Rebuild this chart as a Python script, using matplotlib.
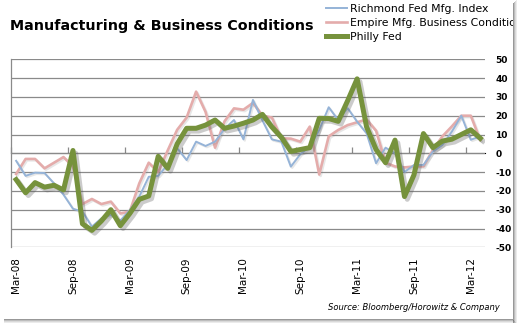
"""Manufacturing & Business Conditions: Richmond, Empire and Philly Fed indexes."""
import numpy as np
import matplotlib
matplotlib.use("Agg")
import matplotlib.pyplot as plt
import matplotlib.patheffects as pe
from matplotlib.patches import Rectangle

plt.rcParams["axes.unicode_minus"] = False

# monthly readings, Mar-08 .. Apr-12
months = ["Mar-08", "Apr-08", "May-08", "Jun-08", "Jul-08", "Aug-08",
          "Sep-08", "Oct-08", "Nov-08", "Dec-08", "Jan-09", "Feb-09",
          "Mar-09", "Apr-09", "May-09", "Jun-09", "Jul-09", "Aug-09",
          "Sep-09", "Oct-09", "Nov-09", "Dec-09", "Jan-10", "Feb-10",
          "Mar-10", "Apr-10", "May-10", "Jun-10", "Jul-10", "Aug-10",
          "Sep-10", "Oct-10", "Nov-10", "Dec-10", "Jan-11", "Feb-11",
          "Mar-11", "Apr-11", "May-11", "Jun-11", "Jul-11", "Aug-11",
          "Sep-11", "Oct-11", "Nov-11", "Dec-11", "Jan-12", "Feb-12",
          "Mar-12", "Apr-12"]

richmond = [-4, -12, -10.3, -10.5, -16, -22, -29.5, -31, -39, -34.6,
            -32.8, -35.8, -30.2, -23, -12.5, -12, -6, 2.7, -3.6, 6.2,
            3.9, 6.2, 13, 17.7, 7.4, 28.4, 17.5, 7.4, 6.2, -7.1,
            -0.5, 3.5, 12.4, 24.5, 17.7, 24, 16.8, 10.6, -5.3, 3,
            0, -10, -6.2, -6.2, 0.9, 4.4, 11.5, 20, 7.2, 9]

empire = [-11, -3, -3, -8, -5, -2, -7, -27, -24.3, -27,
          -25.7, -32, -31, -16, -5, -10, 1.5, 12.5, 19, 32.8,
          22, 3, 17, 23.9, 23.2, 26.8, 20, 19, 8, 7.8,
          6.2, 14.2, -11.3, 9, 12.4, 15, 16.5, 18, 12, -5,
          -7, -7.5, -7, -7, 1.8, 9, 14.3, 20, 20, 7]

philly = [-14, -21, -15.6, -18, -17, -19.5, 1.5, -37.5, -41, -36,
          -30, -38.5, -32, -24.5, -22.7, -1.6, -8, 5, 13.3, 13.3,
          15, 17.7, 13.3, 14.5, 16, 17.7, 20.7, 14, 8.5, 1,
          2, 3, 18.6, 18.5, 17, 28, 39.6, 14, 2, -5,
          7, -23, -11.5, 10.5, 3, 6.5, 7.5, 10, 12.5, 8]

W, H = 521, 323
fig = plt.figure(figsize=(W / 100, H / 100), dpi=100)
fig.patch.set_facecolor("white")
ax = fig.add_axes([11.4 / W, 1 - 247.3 / H, (485 - 11.4) / W, (247.3 - 59.3) / H])

x = np.arange(len(months))
grid_c = "#8a8a8a"
thin_shadow = [pe.SimpleLineShadow(offset=(1, -1), shadow_color="#888888", alpha=0.2), pe.Normal()]

ax.plot(x, richmond, color="#95b3d7", lw=1.4, label="Richmond Fed Mfg. Index",
        path_effects=thin_shadow, zorder=3)
ax.plot(x, empire, color="#e4acab", lw=1.9, label="Empire Mfg. Business Conditions",
        path_effects=thin_shadow, zorder=2)
ax.plot(x, philly, color="#76923c", lw=3.6, label="Philly Fed",
        path_effects=[pe.SimpleLineShadow(offset=(2, -2), shadow_color="#555555", alpha=0.3), pe.Normal()],
        zorder=4)

ax.set_xlim(-0.5, len(months) - 0.5)
ax.set_ylim(-50, 50)
ax.set_yticks(np.arange(-50, 51, 10))
ax.yaxis.tick_right()
ax.tick_params(axis="y", length=0, pad=7.5, labelsize=6.5)
for t in ax.get_yticklabels():
    t.set_horizontalalignment("left")
    t.set_fontweight("bold")
ax.grid(axis="y", color=grid_c, lw=0.9)
ax.set_axisbelow(True)

# labels centred on months, tick marks between months on the zero line
ax.set_xticks(x[::6], [months[i] for i in x[::6]], rotation=90)
ax.tick_params(axis="x", length=0, pad=7, labelsize=7.5)
sec = ax.secondary_xaxis(0.5)
sec.set_xticks(x[::6] - 0.5, [""] * len(x[::6]))
sec.tick_params(axis="x", length=4, width=0.9, color=grid_c)
sec.spines["bottom"].set_color(grid_c)
sec.spines["bottom"].set_linewidth(0.9)

for s in ["top", "right", "bottom"]:
    ax.spines[s].set_visible(False)
ax.spines["left"].set_color(grid_c)
ax.spines["left"].set_linewidth(0.9)

fig.text(10 / W, 1 - 26 / H, "Manufacturing & Business Conditions", fontsize=10.3,
         fontweight="bold", va="center", ha="left")

leg = ax.legend(loc="upper left", bbox_to_anchor=(326 / W, 1 - 4 / H),
                bbox_transform=fig.transFigure, frameon=False, fontsize=7.8,
                handlelength=1.9, handletextpad=0.3, labelspacing=0.35,
                borderaxespad=0, borderpad=0)
for ln in leg.get_lines():
    ln.set_path_effects([])

fig.text(500 / W, 1 - 307 / H, "Source: Bloomberg/Horowitz & Company", fontsize=6,
         style="italic", ha="right", va="center")

# frame edge with a drop shadow on the right and bottom
fig.patches.append(Rectangle((513 / W, 0), 8 / W, 1, transform=fig.transFigure,
                             facecolor="white", edgecolor="none", zorder=10))
fig.patches.append(Rectangle((0, 0), 1, 4 / H, transform=fig.transFigure,
                             facecolor="white", edgecolor="none", zorder=10))
for k, a in enumerate([0.55, 0.35, 0.2, 0.1]):
    fig.patches.append(Rectangle(((513 + k) / W, 0), 1 / W, 1 - (3 - k) / H,
                                 transform=fig.transFigure, facecolor="#444444",
                                 alpha=a, edgecolor="none", zorder=11))
    fig.patches.append(Rectangle((4 / W, (4 - k - 1) / H), (509 + k) / W, 1 / H,
                                 transform=fig.transFigure, facecolor="#444444",
                                 alpha=a, edgecolor="none", zorder=11))

fig.savefig("out.png", dpi=100)
